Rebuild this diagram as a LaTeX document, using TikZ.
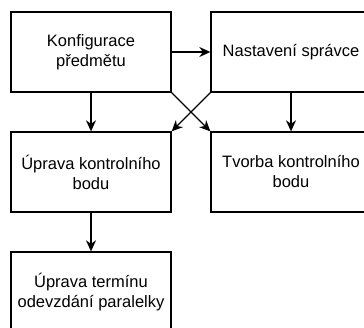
\documentclass[tikz,border=0pt]{standalone}
\usepackage{fontspec}
\setmainfont{Liberation Sans}
\usetikzlibrary{arrows.meta}
\begin{document}
\begin{tikzpicture}[x=1pt,y=-1pt,
  box/.style={draw=black, line width=1.3pt, fill=white, minimum width=160pt,
    minimum height=80pt, align=center, inner sep=0pt,
    font=\fontsize{16.5}{20}\selectfont},
  flow/.style={draw=black, line width=1.3pt,
    -{Stealth[length=11pt,width=10pt,inset=3.5pt]}}]
  \useasboundingbox (0,0) rectangle (364,327);
  \clip (0,0) rectangle (364,327);
  % process steps
  \node[box] (konf)  at (91,52)  {Konfigurace\\předmětu};
  \node[box] (sprav) at (291,52) {Nastavení správce};
  \node[box] (uprava) at (91,172) {Úprava kontrolního\\bodu};
  \node[box] (tvorba) at (291,172) {Tvorba kontrolního\\bodu};
  \node[box] (termin) at (91,292) {Úprava termínu\\odevzdání paralelky};
  % transitions
  \draw[flow] (konf.east) -- (sprav.west);
  \draw[flow] (konf.south) -- (uprava.north);
  \draw[flow] (sprav.south) -- (tvorba.north);
  \draw[flow] (konf.south east) -- (tvorba.north west);
  \draw[flow] (sprav.south west) -- (uprava.north east);
  \draw[flow] (uprava.south) -- (termin.north);
\end{tikzpicture}
\end{document}
